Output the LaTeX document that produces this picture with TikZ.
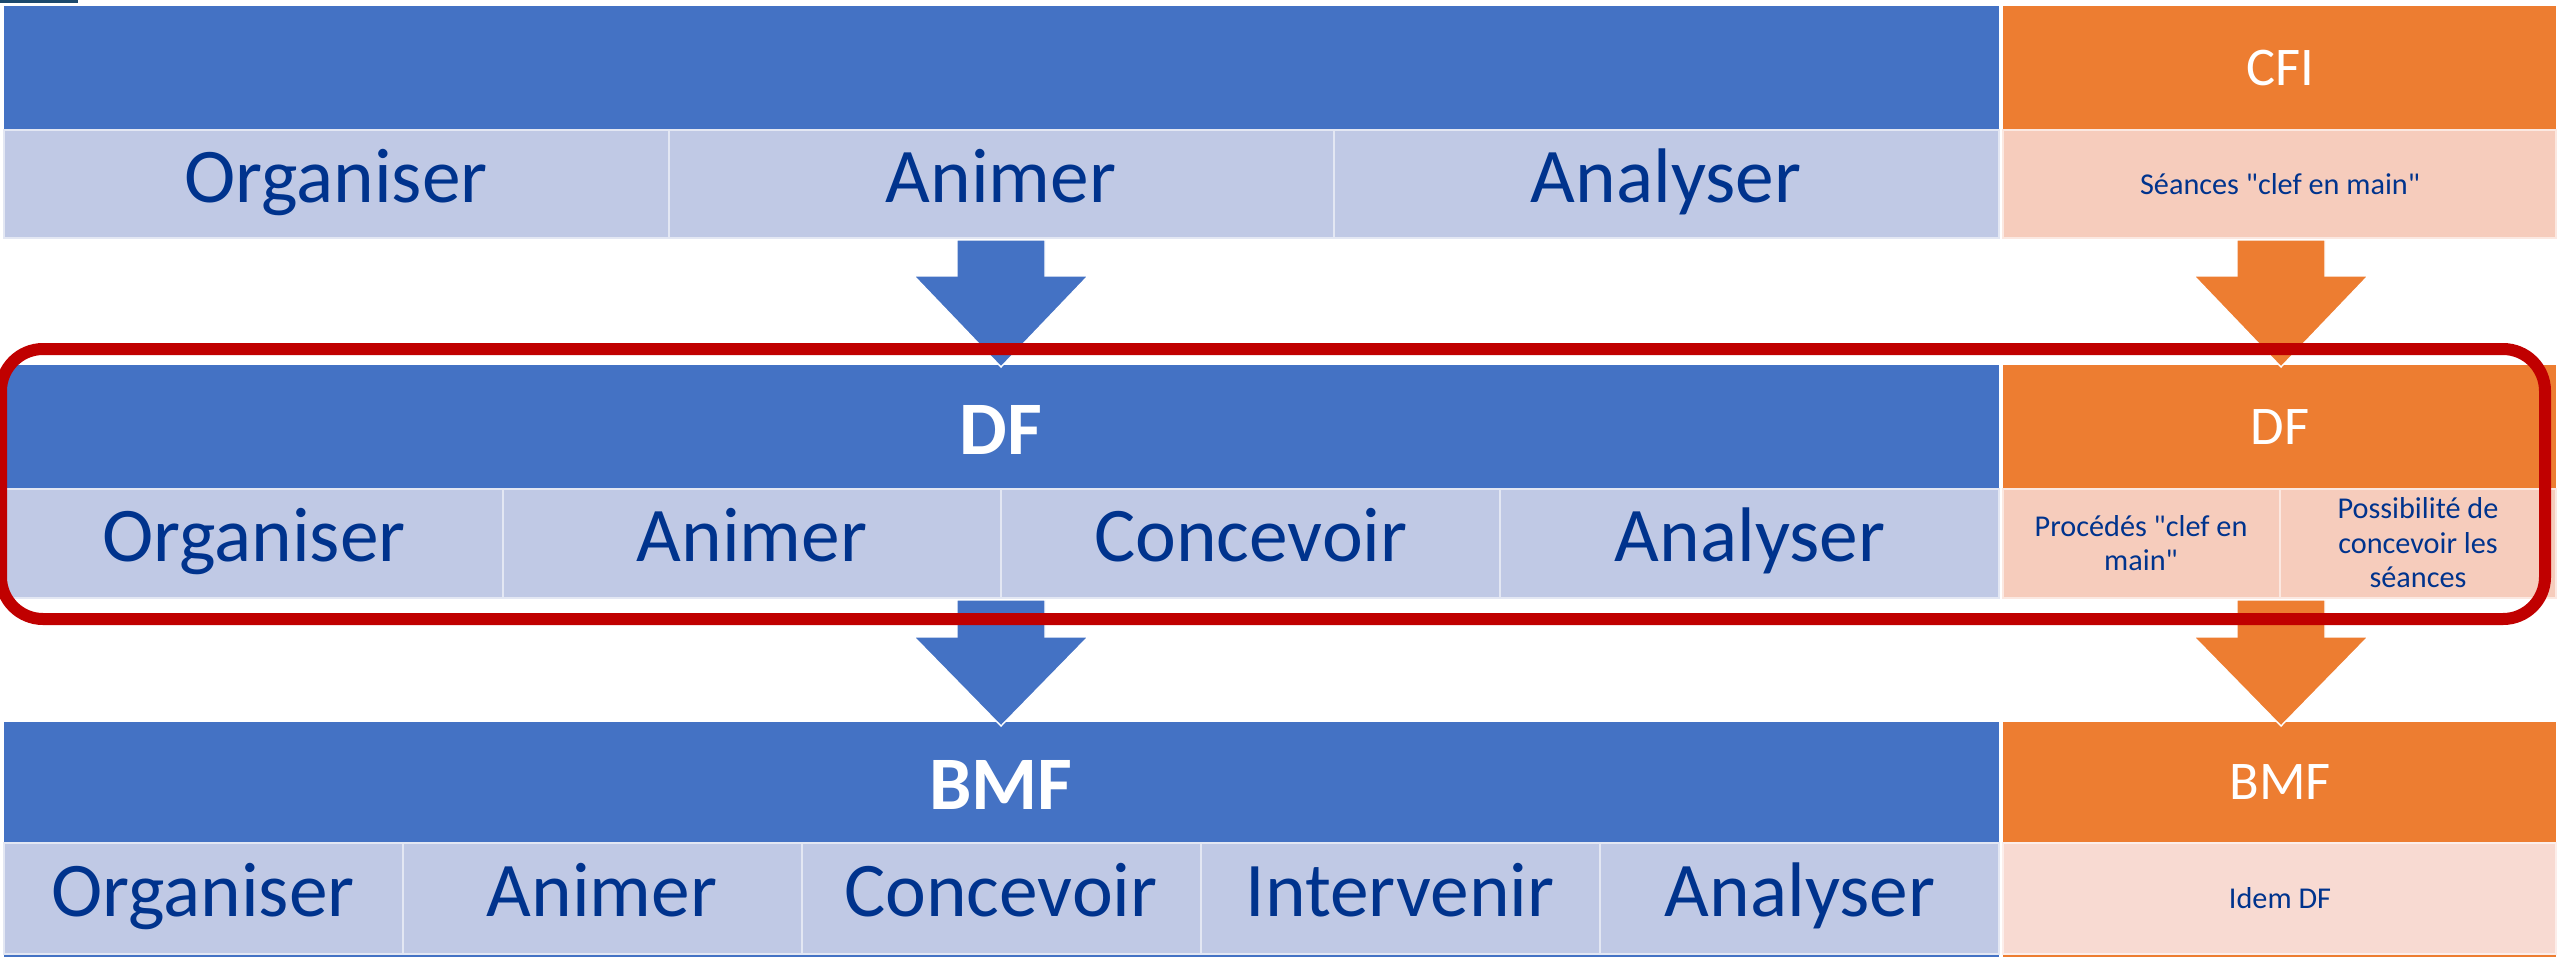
\documentclass[tikz,border=0pt]{standalone}
\usepackage{fontspec}
\setmainfont{Carlito}[Ligatures=TeXOff]
\definecolor{dblue}{RGB}{68,114,196}
\definecolor{lblue}{RGB}{192,201,229}
\definecolor{dorange}{RGB}{237,125,49}
\definecolor{lorange}{RGB}{246,204,188}
\definecolor{porange}{RGB}{248,218,210}
\definecolor{navy}{RGB}{0,51,141}
\definecolor{dred}{RGB}{192,0,0}
\definecolor{logo}{RGB}{28,74,110}
\tikzset{
  cellb/.style={fill=lblue, draw=white!55!lblue, line width=0.6pt},
  cello/.style={fill=lorange, draw=white!55!lorange, line width=0.6pt},
  cellp/.style={fill=porange, draw=white!55!porange, line width=0.6pt},
  big/.style={text=navy, font=\fontsize{22}{26}\selectfont, text height=15.4pt, text depth=4.8pt},
  small/.style={text=navy, font=\fontsize{8.6}{9.8}\selectfont, align=center},
  title/.style={text=white, font=\fontsize{21.5}{26}\selectfont\bfseries},
  otitle/.style={text=white, font=\fontsize{15.5}{18}\selectfont},
  barrow/.style={fill=dblue, draw=white, line width=0.4pt},
  oarrow/.style={fill=dorange, draw=white, line width=0.4pt}
}
\begin{document}
\begin{tikzpicture}[x=0.01cm, y=-0.01cm]
\useasboundingbox (0,0) rectangle (2560,957);
\clip (0,0) rectangle (2560,957);
\fill[logo] (0,0) rectangle (78,3);
% CFI
\fill[dblue] (4,6) rectangle (1999,130);
\fill[dorange] (2003,6) rectangle (2556,130);
\draw[cellb] (4,130) rectangle (669,238);
\draw[cellb] (669,130) rectangle (1334,238);
\draw[cellb] (1334,130) rectangle (1999,238);
\draw[cello] (2003,130) rectangle (2556,238);
\node[otitle] (cfi) at (2280,68) {CFI};
\node[big] (org1) at (336,184) {Organiser};
\node[big] (ani1) at (1001,184) {Animer};
\node[big] (ana1) at (1666,184) {Analyser};
\node[small] (cle1) at (2280,184) {Séances "clef en main"};
% DF
\fill[dblue] (4,365) rectangle (1999,489);
\fill[dorange] (2003,365) rectangle (2556,489);
\draw[cellb] (4,489) rectangle (503,598);
\draw[cellb] (503,489) rectangle (1001,598);
\draw[cellb] (1001,489) rectangle (1500,598);
\draw[cellb] (1500,489) rectangle (1999,598);
\draw[cello] (2003,489) rectangle (2280,598);
\draw[cello] (2280,489) rectangle (2556,598);
\node[title] (df) at (1001,430) {DF};
\node[otitle] (odf) at (2280,427) {DF};
\node[big] (org2) at (254,543) {Organiser};
\node[big] (ani2) at (752,543) {Animer};
\node[big] (con2) at (1251,543) {Concevoir};
\node[big] (ana2) at (1750,543) {Analyser};
\node[small] (cle2) at (2141,543) {Procédés "clef en\\main"};
\node[small] (pos2) at (2418,543) {Possibilité de\\concevoir les\\séances};
% BMF
\fill[dblue] (4,722) rectangle (1999,843);
\fill[dorange] (2003,722) rectangle (2556,843);
\draw[cellb] (4,843) rectangle (403,954);
\draw[cellb] (403,843) rectangle (802,954);
\draw[cellb] (802,843) rectangle (1201,954);
\draw[cellb] (1201,843) rectangle (1600,954);
\draw[cellb] (1600,843) rectangle (1999,954);
\draw[cellp] (2003,843) rectangle (2556,954);
\fill[dblue] (4,955) rectangle (1999,957);
\fill[dorange] (2003,955) rectangle (2556,957);
\node[title] (bmf) at (1001,785) {BMF};
\node[otitle] (obmf) at (2280,782) {BMF};
\node[big] (org3) at (203,898) {Organiser};
\node[big] (ani3) at (602,898) {Animer};
\node[big] (con3) at (1001,898) {Concevoir};
\node[big] (int3) at (1400,898) {Intervenir};
\node[big] (ana3) at (1800,898) {Analyser};
\node[small] (idem) at (2280,898) {Idem DF};
% arrows
\draw[barrow] (957,240)--(1045,240)--(1045,276)--(1088,276)--(1001,367)--(914,276)--(957,276)--cycle;
\draw[oarrow] (2237,240)--(2325,240)--(2325,276)--(2368,276)--(2281,367)--(2194,276)--(2237,276)--cycle;
\draw[barrow] (957,600)--(1045,600)--(1045,637)--(1088,637)--(1001,726)--(914,637)--(957,637)--cycle;
\draw[oarrow] (2237,600)--(2325,600)--(2325,637)--(2368,637)--(2281,726)--(2194,637)--(2237,637)--cycle;
% focus
\draw[dred, line width=0.12cm, rounded corners=0.42cm] (1,349) rectangle (2545,619);
\end{tikzpicture}
\end{document}
